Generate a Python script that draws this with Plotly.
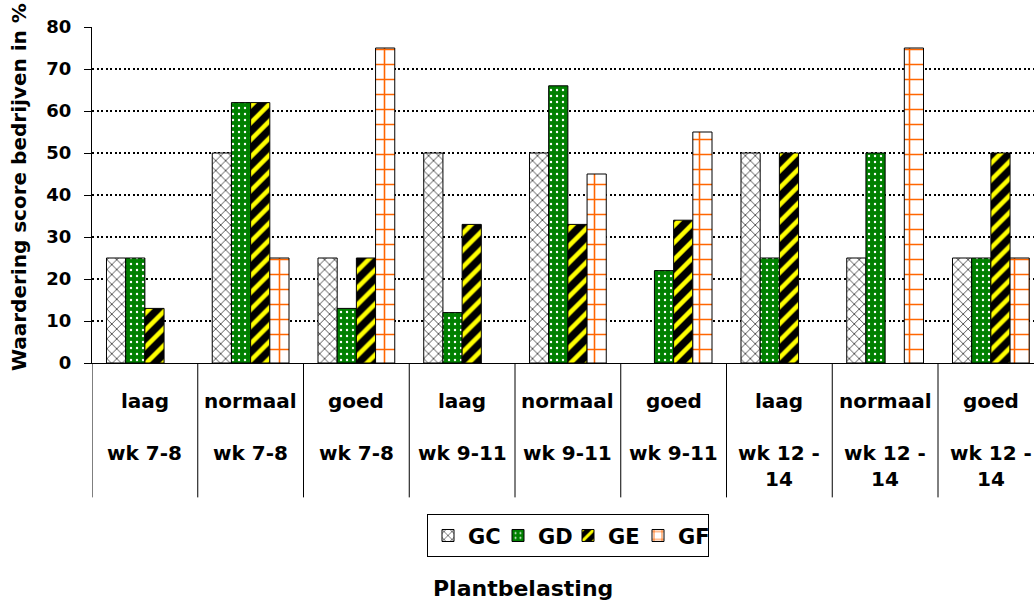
import plotly.graph_objects as go

categories = ["laag", "normaal", "goed", "laag", "normaal", "goed", "laag", "normaal", "goed"]
weeks = ["wk 7-8", "wk 7-8", "wk 7-8", "wk 9-11", "wk 9-11", "wk 9-11",
         "wk 12 -<br>14", "wk 12 -<br>14", "wk 12 -<br>14"]
series_names = ["GC", "GD", "GE", "GF"]
gc = [25, 50, 25, 50, 50, None, 50, 25, 25]
gd = [25, 62, 13, 12, 66, 22, 25, 50, 25]
ge = [13, 62, 25, 33, 33, 34, 50, None, 50]
gf = [None, 25, 75, None, 45, 55, None, 75, 25]
y_ticks = [0, 10, 20, 30, 40, 50, 60, 70, 80]

FONT = "DejaVu Sans"
W, H = 1034, 603
ML, MT, MB = 92, 26.5, 603 - 363.3
plot_h = H - MT - MB
plot_w = W - ML

patterns = [
    dict(shape="x", bgcolor="white", fgcolor="#333333", size=7, solidity=0.22),
    dict(shape=".", bgcolor="#008000", fgcolor="white", size=6, solidity=0.12),
    dict(shape="/", bgcolor="black", fgcolor="#FFFF00", size=12, solidity=0.38),
    dict(shape="+", bgcolor="white", fgcolor="#FF6600", size=15, solidity=0.2),
]
bgs = ["white", "#008000", "black", "white"]

x_idx = list(range(len(categories)))
fig = go.Figure()
for name, vals, pat, bg in zip(series_names, [gc, gd, ge, gf], patterns, bgs):
    fig.add_trace(go.Bar(
        x=x_idx, y=vals, name=name,
        marker=dict(color=bg, line=dict(color="black", width=1),
                    pattern=dict(fillmode="replace", fgopacity=1, **pat)),
    ))

ann = []
shapes = []
for i, (c, w) in enumerate(zip(categories, weeks)):
    ann.append(dict(x=i, y=(363.3 - 401) / plot_h, xref="x", yref="paper", text=c,
                    showarrow=False, xanchor="center", yanchor="middle",
                    font=dict(family=FONT, size=20, color="black", weight="bold")))
    ann.append(dict(x=i, y=(363.3 - 439) / plot_h, xref="x", yref="paper", text=w,
                    showarrow=False, xanchor="center", yanchor="top",
                    font=dict(family=FONT, size=20, color="black", weight="bold")))
    shapes.append(dict(type="line", xref="x", yref="paper", x0=i - 0.5, x1=i - 0.5,
                       y0=0, y1=-(498 - 363.3) / plot_h,
                       line=dict(color="black", width=1)))

ann.append(dict(x=(19 - ML) / plot_w, y=(363.3 - 187) / plot_h, xref="paper", yref="paper",
                text="Waardering score bedrijven in %", textangle=-90, showarrow=False,
                xanchor="center", yanchor="middle",
                font=dict(family=FONT, size=20, color="black", weight="bold")))
ann.append(dict(x=(523 - ML) / plot_w, y=(363.3 - 589) / plot_h, xref="paper", yref="paper",
                text="Plantbelasting", showarrow=False, xanchor="center", yanchor="middle",
                font=dict(family=FONT, size=22, color="black", weight="bold")))

fig.update_layout(
    width=W, height=H,
    margin=dict(l=ML, r=0, t=MT, b=MB, pad=0),
    paper_bgcolor="white", plot_bgcolor="white",
    barmode="group", bargap=0.274, bargroupgap=0,
    showlegend=True,
    legend=dict(orientation="h", x=(568 - ML) / plot_w, xanchor="center",
                y=(363.3 - 515) / plot_h, yanchor="top",
                bordercolor="black", borderwidth=1, bgcolor="white",
                font=dict(family=FONT, size=21, color="black", weight="bold"),
                entrywidth=25, traceorder="normal"),
    xaxis=dict(range=[-0.5, -0.5 + plot_w / 105.75], showticklabels=False, ticks="",
               showgrid=False, zeroline=False, showline=True, linecolor="black", linewidth=1,
               fixedrange=True),
    yaxis=dict(range=[0, 80], tickvals=y_ticks, ticks="outside", ticklen=7, tickcolor="black",
               showline=True, linecolor="black", linewidth=1, zeroline=False,
               showgrid=True, gridcolor="black", gridwidth=1.5, griddash="2px,2.5px",
               tickfont=dict(family=FONT, size=18, color="black", weight="bold"),
               ticklabelstandoff=9),
    annotations=ann, shapes=shapes,
)
fig.write_html("out.html", config={"displayModeBar": False},
               post_script="document.body.style.margin='0px';document.body.style.overflow='hidden';")
